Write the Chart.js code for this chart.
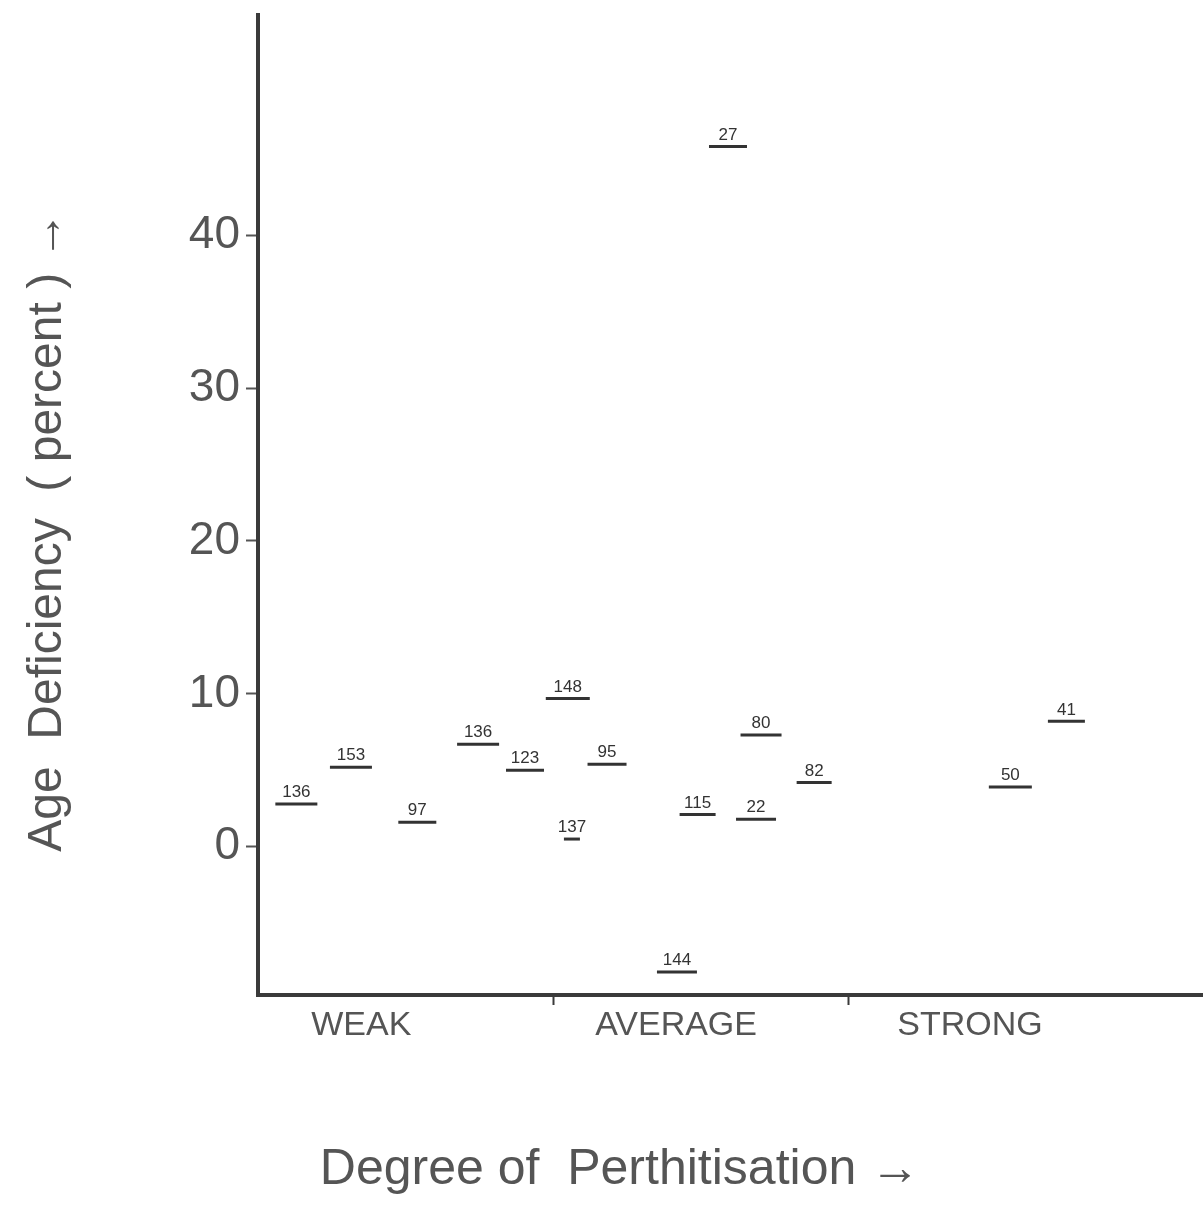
<!DOCTYPE html>
<html>
<head>
<meta charset="utf-8">
<script src="https://cdn.jsdelivr.net/npm/chart.js@4/dist/chart.umd.min.js"></script>
<style>
  html, body { margin: 0; padding: 0; background: #fff; }
  #wrap { width: 1203px; height: 1205px; }
</style>
</head>
<body>
<div id="wrap"><canvas id="chart"></canvas></div>
<script>
// Age deficiency vs degree of perthitisation (sample numbers above each dash)
const sampleIds = ["136", "153", "97", "136", "123", "148", "137", "95", "144", "27", "115", "22", "80", "82", "50", "41"];
const xPos = [0.13, 0.315, 0.54, 0.746, 0.905, 1.05, 1.064, 1.183, 1.42, 1.593, 1.49, 1.688, 1.705, 1.885, 2.55, 2.74];
const deficiency = [2.8, 5.2, 1.6, 6.7, 5.0, 9.7, 0.5, 5.4, -8.2, 45.8, 2.1, 1.8, 7.3, 4.2, 3.9, 8.2];
const dashHalf = [21, 21, 19, 21, 19, 22, 8, 19.5, 20, 19, 18, 20, 20.5, 17.5, 21.5, 18.5];

const yTicks = [0, 10, 20, 30, 40];
const classTicks = [1, 2];
const classLabels = ["WEAK", "AVERAGE", "STRONG"];
const classPos = [0.35, 1.417, 2.413];

const INK = "#3a3a3a";
const TEXT = "#555";
const FONT = "'Liberation Sans', Arial, sans-serif";

// sample number written above each dash
const idLabels = {
  id: "idLabels",
  afterDatasetsDraw(chart) {
    const ctx = chart.ctx;
    const meta = chart.getDatasetMeta(0);
    ctx.save();
    ctx.fillStyle = "#333";
    ctx.font = "17px " + FONT;
    ctx.textAlign = "center";
    ctx.textBaseline = "bottom";
    meta.data.forEach((el, i) => {
      ctx.fillText(sampleIds[i], el.x, el.y - 3);
    });
    ctx.restore();
  },
};

const xTickVals = classTicks.concat(classPos).sort((a, b) => a - b);

function noPad(s) {
  s.paddingTop = 0;
  s.paddingBottom = 0;
  s.paddingLeft = 0;
  s.paddingRight = 0;
}

new Chart(document.getElementById("chart"), {
  type: "scatter",
  data: {
    datasets: [
      {
        data: xPos.map((x, i) => ({ x, y: deficiency[i] })),
        pointStyle: "line",
        pointRadius: dashHalf,
        pointHoverRadius: dashHalf,
        borderColor: "#333",
        backgroundColor: "#333",
        borderWidth: 3,
        pointHoverBorderWidth: 3,
      },
    ],
  },
  options: {
    responsive: true,
    maintainAspectRatio: false,
    animation: false,
    events: [],
    layout: { autoPadding: false, padding: { top: 15, left: 37, right: 0, bottom: 5 } },
    plugins: {
      legend: { display: false },
      tooltip: { enabled: false },
      title: {
        display: true,
        position: "bottom",
        text: "Degree of  Perthitisation →",
        color: TEXT,
        font: { family: FONT, size: 50, weight: "normal", lineHeight: 1.2 },
        padding: { top: 68, bottom: 0 },
      },
    },
    scales: {
      x: {
        type: "linear",
        min: 0,
        max: 3.203,
        afterBuildTicks: (s) => { s.ticks = xTickVals.map((v) => ({ value: v })); },
        afterFit: (s) => { s.height = 77; noPad(s); },
        border: { display: true, color: INK, width: 4 },
        grid: {
          drawOnChartArea: false,
          tickLength: 10,
          tickWidth: 2,
          tickColor: (c) => (c.tick && classTicks.includes(c.tick.value) ? INK : "rgba(0,0,0,0)"),
        },
        ticks: {
          autoSkip: false,
          maxRotation: 0,
          padding: 0,
          color: TEXT,
          font: { family: FONT, size: 34 },
          callback: (v) => {
            const k = classPos.indexOf(v);
            return k >= 0 ? classLabels[k] : "";
          },
        },
      },
      y: {
        min: -9.7,
        max: 54.4,
        afterBuildTicks: (s) => { s.ticks = yTicks.map((v) => ({ value: v })); },
        afterFit: (s) => { s.width = 221; noPad(s); },
        border: { display: true, color: INK, width: 4 },
        grid: { drawOnChartArea: false, tickLength: 12, tickWidth: 2, tickColor: TEXT },
        ticks: {
          padding: 6,
          color: TEXT,
          font: { family: FONT, size: 46 },
        },
        title: {
          display: true,
          text: "Age  Deficiency  ( percent ) →    ",
          color: TEXT,
          font: { family: FONT, size: 48, weight: "normal", lineHeight: 0.46 },
          padding: { top: 0, bottom: 0 },
        },
      },
    },
  },
  plugins: [idLabels],
});
</script>
</body>
</html>
